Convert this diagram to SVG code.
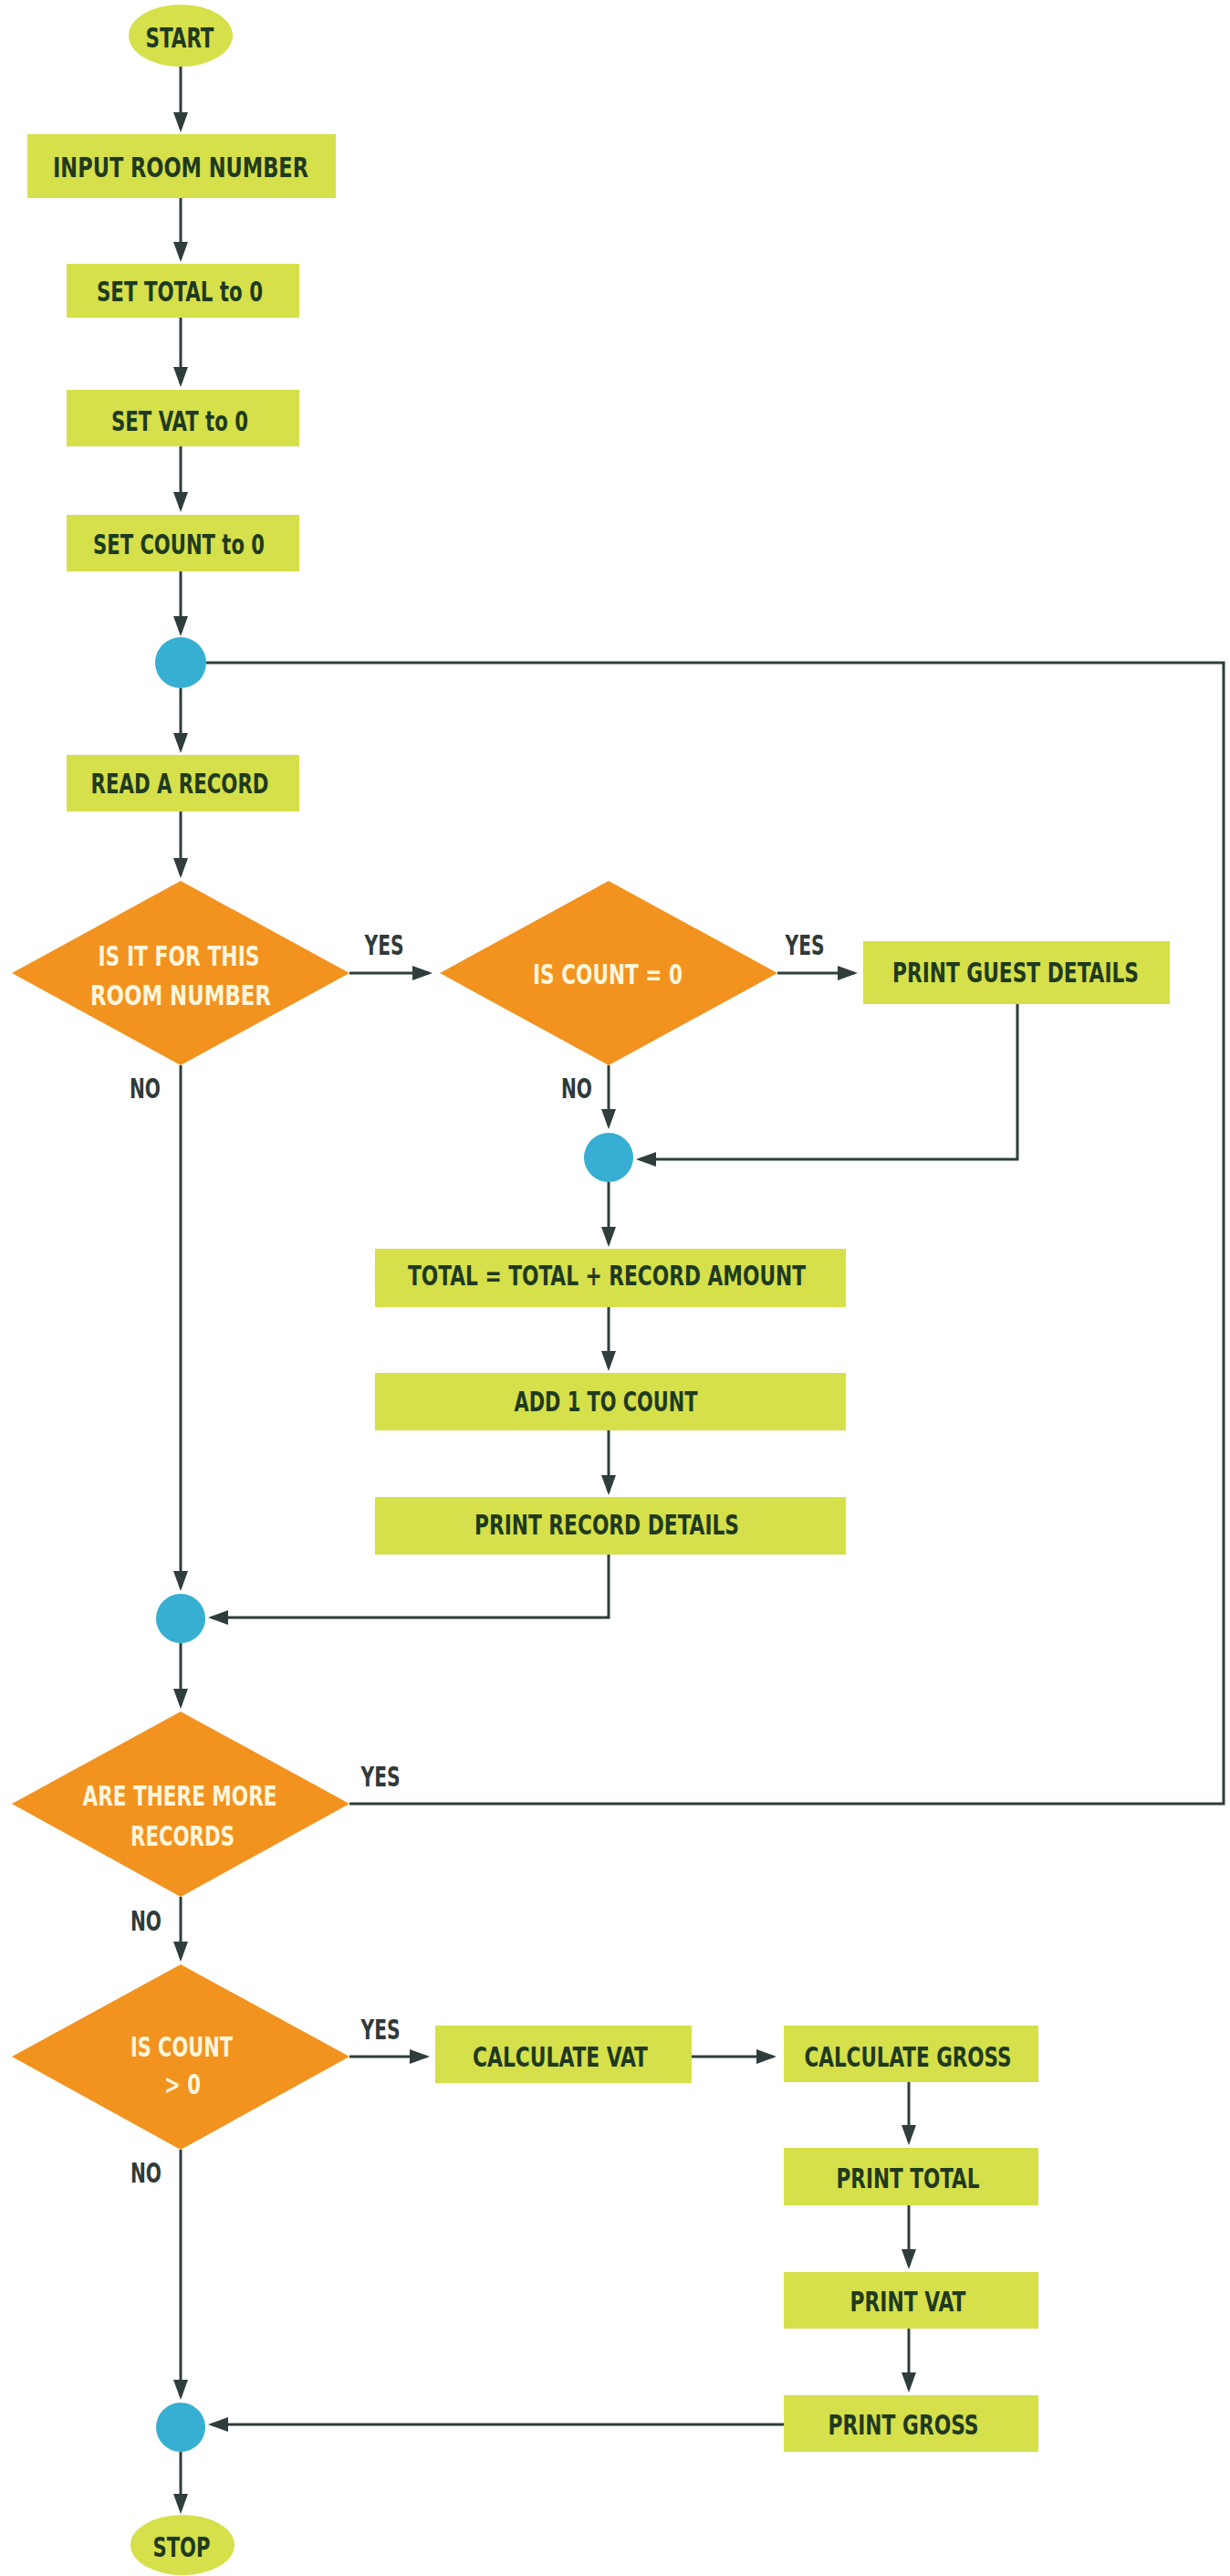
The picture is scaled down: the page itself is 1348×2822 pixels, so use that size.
<svg xmlns="http://www.w3.org/2000/svg" width="1348" height="2822" viewBox="0 0 1348 2822">
<defs>
<marker id="arr" markerUnits="userSpaceOnUse" markerWidth="22" markerHeight="16" refX="18" refY="8" orient="auto">
<path d="M0,0 L22,8 L0,16 z" fill="#2f3d3d"/>
</marker>
<style>
.box{fill:#d5e04a}
.term{fill:#d5e04a}
.dec{fill:#f29320}
.join{fill:#36afd2}
.t{font-family:"DejaVu Sans Condensed","Liberation Sans",sans-serif;font-stretch:condensed;font-weight:bold;font-size:30px;fill:#1f3a1f;text-anchor:middle}
.w{font-family:"DejaVu Sans Condensed","Liberation Sans",sans-serif;font-stretch:condensed;font-weight:bold;font-size:30px;fill:#fff6dc;text-anchor:middle}
.lbl{font-family:"DejaVu Sans Condensed","Liberation Sans",sans-serif;font-stretch:condensed;font-weight:bold;font-size:30px;fill:#2f3a3a;text-anchor:middle}
.c{fill:none;stroke:#2f3d3d;stroke-width:3}
.ca{fill:none;stroke:#2f3d3d;stroke-width:3;marker-end:url(#arr)}
</style>
</defs>
<rect width="1348" height="2822" fill="#ffffff"/>

<g id="connectors">
<path class="ca" d="M198,72 V141"/>
<path class="ca" d="M198,217 V283"/>
<path class="ca" d="M198,348 V420"/>
<path class="ca" d="M198,489 V557"/>
<path class="ca" d="M198,626 V693"/>
<path class="ca" d="M198,754 V821"/>
<path class="ca" d="M198,889 V958"/>
<path class="ca" d="M383,1066 H470"/>
<path class="ca" d="M852,1066 H936"/>
<path class="ca" d="M667,1167 V1233"/>
<path class="ca" d="M1115,1100 V1270 H701"/>
<path class="ca" d="M667,1295 V1362"/>
<path class="ca" d="M667,1432 V1498"/>
<path class="ca" d="M667,1567 V1634"/>
<path class="ca" d="M667,1703 V1772 H232"/>
<path class="ca" d="M198,1167 V1739"/>
<path class="ca" d="M198,1800 V1868"/>
<path class="c" d="M383,1976 H1341 V726 H226"/>
<path class="ca" d="M198,2078 V2145"/>
<path class="ca" d="M383,2253 H467"/>
<path class="ca" d="M758,2253 H847"/>
<path class="ca" d="M996,2281 V2346"/>
<path class="ca" d="M996,2416 V2482"/>
<path class="ca" d="M996,2551 V2617"/>
<path class="ca" d="M859,2656 H232"/>
<path class="ca" d="M198,2355 V2625"/>
<path class="ca" d="M198,2686 V2750"/>
</g>

<g id="start"><ellipse class="term" cx="198" cy="39" rx="57" ry="34"/><text class="t" x="197" y="52" textLength="75" lengthAdjust="spacingAndGlyphs">START</text></g>
<g id="input-room"><rect class="box" x="30" y="147" width="338" height="70"/><text class="t" x="198" y="194" textLength="280" lengthAdjust="spacingAndGlyphs">INPUT ROOM NUMBER</text></g>
<g id="set-total"><rect class="box" x="73" y="289" width="255" height="59"/><text class="t" x="197" y="330" textLength="182" lengthAdjust="spacingAndGlyphs">SET TOTAL to 0</text></g>
<g id="set-vat"><rect class="box" x="73" y="427" width="255" height="62"/><text class="t" x="197" y="472" textLength="150" lengthAdjust="spacingAndGlyphs">SET VAT to 0</text></g>
<g id="set-count"><rect class="box" x="73" y="564" width="255" height="62"/><text class="t" x="196" y="607" textLength="188" lengthAdjust="spacingAndGlyphs">SET COUNT to 0</text></g>
<g id="join1"><circle class="join" cx="198" cy="726" r="28"/></g>
<g id="read-record"><rect class="box" x="73" y="827" width="255" height="62"/><text class="t" x="197" y="869" textLength="195" lengthAdjust="spacingAndGlyphs">READ A RECORD</text></g>
<g id="dec-room"><polygon class="dec" points="13,1066 198,965 383,1066 198,1167"/><text class="w" x="196" y="1058" textLength="177" lengthAdjust="spacingAndGlyphs">IS IT FOR THIS</text><text class="w" x="198" y="1101" textLength="198" lengthAdjust="spacingAndGlyphs">ROOM NUMBER</text></g>
<g id="dec-count0"><polygon class="dec" points="482,1066 667,965 852,1066 667,1167"/><text class="w" x="666" y="1078" textLength="164" lengthAdjust="spacingAndGlyphs">IS COUNT = 0</text></g>
<g id="print-guest"><rect class="box" x="946" y="1031" width="336" height="69"/><text class="t" x="1113" y="1076" textLength="270" lengthAdjust="spacingAndGlyphs">PRINT GUEST DETAILS</text></g>
<g id="join2"><circle class="join" cx="667" cy="1268" r="27"/></g>
<g id="total-add"><rect class="box" x="411" y="1368" width="516" height="64"/><text class="t" x="665" y="1408" textLength="436" lengthAdjust="spacingAndGlyphs">TOTAL = TOTAL + RECORD AMOUNT</text></g>
<g id="add-count"><rect class="box" x="411" y="1504" width="516" height="63"/><text class="t" x="664" y="1546" textLength="201" lengthAdjust="spacingAndGlyphs">ADD 1 TO COUNT</text></g>
<g id="print-record"><rect class="box" x="411" y="1640" width="516" height="63"/><text class="t" x="665" y="1681" textLength="290" lengthAdjust="spacingAndGlyphs">PRINT RECORD DETAILS</text></g>
<g id="join3"><circle class="join" cx="198" cy="1773" r="27"/></g>
<g id="dec-more"><polygon class="dec" points="13,1976 198,1875 383,1976 198,2078"/><text class="w" x="197" y="1978" textLength="213" lengthAdjust="spacingAndGlyphs">ARE THERE MORE</text><text class="w" x="200" y="2022" textLength="114" lengthAdjust="spacingAndGlyphs">RECORDS</text></g>
<g id="dec-countgt0"><polygon class="dec" points="13,2253 198,2152 383,2253 198,2355"/><text class="w" x="199" y="2253" textLength="112" lengthAdjust="spacingAndGlyphs">IS COUNT</text><text class="w" x="200" y="2294" textLength="40" lengthAdjust="spacingAndGlyphs">&gt; 0</text></g>
<g id="calc-vat"><rect class="box" x="477" y="2219" width="281" height="63"/><text class="t" x="614" y="2264" textLength="192" lengthAdjust="spacingAndGlyphs">CALCULATE VAT</text></g>
<g id="calc-gross"><rect class="box" x="859" y="2219" width="279" height="62"/><text class="t" x="995" y="2264" textLength="227" lengthAdjust="spacingAndGlyphs">CALCULATE GROSS</text></g>
<g id="print-total"><rect class="box" x="859" y="2353" width="279" height="63"/><text class="t" x="995" y="2397" textLength="157" lengthAdjust="spacingAndGlyphs">PRINT TOTAL</text></g>
<g id="print-vat"><rect class="box" x="859" y="2489" width="279" height="62"/><text class="t" x="995" y="2532" textLength="127" lengthAdjust="spacingAndGlyphs">PRINT VAT</text></g>
<g id="print-gross"><rect class="box" x="859" y="2624" width="279" height="62"/><text class="t" x="990" y="2667" textLength="165" lengthAdjust="spacingAndGlyphs">PRINT GROSS</text></g>
<g id="join4"><circle class="join" cx="198" cy="2659" r="27"/></g>
<g id="stop"><ellipse class="term" cx="200" cy="2788" rx="57" ry="33"/><text class="t" x="199" y="2801" textLength="63" lengthAdjust="spacingAndGlyphs">STOP</text></g>

<g id="labels">
<text class="lbl" x="421" y="1046" textLength="43" lengthAdjust="spacingAndGlyphs">YES</text>
<text class="lbl" x="882" y="1046" textLength="43" lengthAdjust="spacingAndGlyphs">YES</text>
<text class="lbl" x="159" y="1203" textLength="34" lengthAdjust="spacingAndGlyphs">NO</text>
<text class="lbl" x="632" y="1203" textLength="34" lengthAdjust="spacingAndGlyphs">NO</text>
<text class="lbl" x="417" y="1957" textLength="43" lengthAdjust="spacingAndGlyphs">YES</text>
<text class="lbl" x="160" y="2115" textLength="34" lengthAdjust="spacingAndGlyphs">NO</text>
<text class="lbl" x="417" y="2234" textLength="43" lengthAdjust="spacingAndGlyphs">YES</text>
<text class="lbl" x="160" y="2391" textLength="34" lengthAdjust="spacingAndGlyphs">NO</text>
</g>
</svg>
